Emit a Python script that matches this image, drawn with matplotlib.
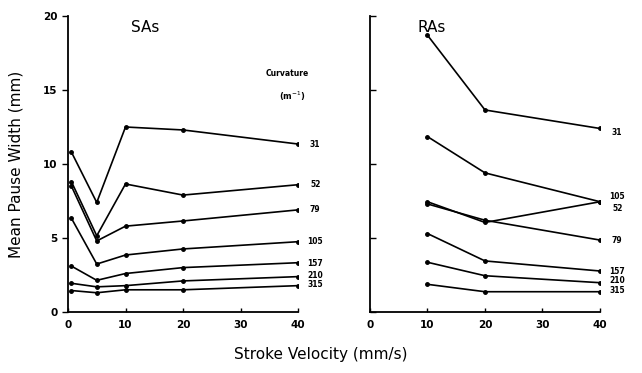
import matplotlib.pyplot as plt

# curvature (1/m) of each series
curvatures = ["31", "52", "79", "105", "157", "210", "315"]

# SAs: stroke velocity (mm/s) and mean pause width (mm)
sa_x = [0.6, 5, 10, 20, 40]
sa_y = [
    [10.8, 7.4, 12.5, 12.3, 11.35],
    [8.8, 5.15, 8.65, 7.9, 8.6],
    [8.5, 4.8, 5.8, 6.15, 6.9],
    [6.33, 3.24, 3.85, 4.26, 4.75],
    [3.1, 2.14, 2.6, 3.0, 3.33],
    [1.94, 1.7, 1.78, 2.1, 2.39],
    [1.45, 1.3, 1.5, 1.5, 1.78],
]
sa_label_y = [11.35, 8.6, 6.9, 4.75, 3.3, 2.5, 1.85]

# RAs
ra_x = [10, 20, 40]
ra_y = [
    [18.7, 13.65, 12.4],
    [7.45, 6.05, 7.45],
    [7.3, 6.2, 4.86],
    [11.85, 9.4, 7.45],
    [5.3, 3.45, 2.77],
    [3.36, 2.45, 1.98],
    [1.87, 1.37, 1.37],
]
ra_label_y = [12.1, 7.0, 4.8, 7.8, 2.77, 2.1, 1.45]

fig = plt.figure(figsize=(6.42, 3.73), dpi=100)
ax1 = fig.add_axes((68 / 642, 1 - 312 / 373, 230 / 642, 296 / 373))
ax2 = fig.add_axes((370 / 642, 1 - 312 / 373, 230 / 642, 296 / 373))

for ax, xs, ys, label_y, title, tx in [
    (ax1, sa_x, sa_y, sa_label_y, "SAs", 13.5),
    (ax2, ra_x, ra_y, ra_label_y, "RAs", 10.8),
]:
    for y, ly, c in zip(ys, label_y, curvatures):
        ax.plot(xs, y, color="black", lw=1.2, marker="o", ms=2.5)
        ax.text(43, ly, c, fontsize=5.5, fontweight="bold", ha="center",
                va="center", clip_on=False)
    ax.set_xlim(0, 40)
    ax.set_ylim(0, 20)
    ax.set_xticks([0, 10, 20, 30, 40])
    ax.set_yticks([0, 5, 10, 15, 20])
    ax.spines[["top", "right"]].set_visible(False)
    ax.spines[["left", "bottom"]].set_linewidth(1.3)
    ax.tick_params(axis="x", direction="in", length=3, width=1, labelsize=7.5, pad=6)
    ax.tick_params(axis="y", direction="out", length=4, width=1, labelsize=7.5)
    for t in ax.get_xticklabels() + ax.get_yticklabels():
        t.set_fontweight("bold")
    ax.text(tx, 19.2, title, fontsize=11, ha="center", va="center")

ax2.tick_params(axis="y", direction="in", labelleft=False)

ax1.text(38.2, 16.1, "Curvature", fontsize=5.5, fontweight="bold", ha="center", va="center")
ax1.text(39, 14.6, "(m$^{-1}$)", fontsize=6, fontweight="bold", ha="center", va="center")

ax1.set_ylabel("Mean Pause Width (mm)", fontsize=11, labelpad=14)
fig.text(0.5, 1 - 355 / 373, "Stroke Velocity (mm/s)", fontsize=11, ha="center", va="center")

fig.savefig("out.png", dpi=100)
